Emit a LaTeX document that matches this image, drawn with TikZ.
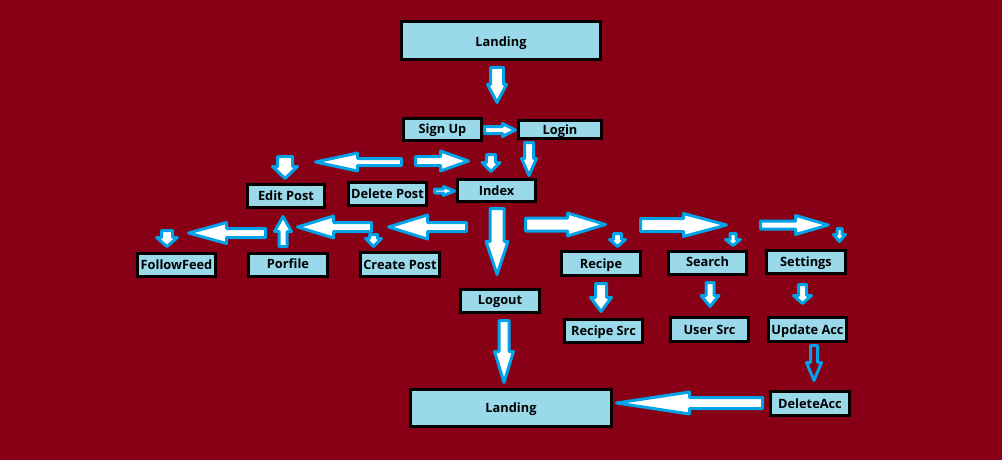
\documentclass[tikz,border=0pt]{standalone}
\usepackage{fontspec}
\setmainfont{Open Sans}
\usetikzlibrary{calc}
\definecolor{bgred}{RGB}{136,0,21}
\definecolor{boxblue}{RGB}{153,217,234}
\definecolor{arrblue}{RGB}{0,162,232}
\tikzset{
  box/.style={draw=black, line width=3pt, fill=boxblue, inner sep=0pt, text=black,
    font=\bfseries\fontsize{12.8}{14}\selectfont, text height=0.714em+2.4pt, text depth=0pt},
  barrow/.style={draw=arrblue, fill=white, line width=3pt, line join=round},
  hollow/.style={fill=none}
}
% #1 options, #2 tail, #3 tip, #4 head length, #5 shaft half width, #6 head half width
\newcommand{\blockarrow}[6][]{%
  \draw[barrow,#1] ($(#2)!#5pt!90:(#3)$) -- ($(#3)!#4pt!(#2)!#5pt!90:(#3)$)
    -- ($(#3)!#4pt!(#2)!#6pt!90:(#3)$) -- (#3)
    -- ($(#3)!#4pt!(#2)!#6pt!-90:(#3)$) -- ($(#3)!#4pt!(#2)!#5pt!-90:(#3)$)
    -- ($(#2)!#5pt!-90:(#3)$) -- cycle;}
\begin{document}
\begin{tikzpicture}[x=1pt,y=-1pt]
\fill[bgred] (0,0) rectangle (1002,460);
\useasboundingbox (0,0) rectangle (1002,460);

% boxes
\node[box, minimum width=199, minimum height=38] (landingtop) at (501,40.5) {\raisebox{-1.5pt}{Landing}};
\node[box, minimum width=78, minimum height=22] (signup) at (442.5,129.5) {\raisebox{1.2pt}{Sign Up}};
\node[box, minimum width=83, minimum height=18] (login) at (560,129.5) {Login};
\node[box, minimum width=78, minimum height=22] (index) at (496.5,190.5) {Index};
\node[box, minimum width=77, minimum height=23] (editpost) at (286,196) {Edit Post};
\node[box, minimum width=78, minimum height=23] (deletepost) at (387.5,194) {Delete Post};
\node[box, minimum width=78, minimum height=23] (followfeed) at (176.5,265) {FollowFeed};
\node[box, minimum width=79, minimum height=23] (porfile) at (288,265) {\raisebox{1pt}{Porfile}};
\node[box, minimum width=79, minimum height=24] (createpost) at (400,264.5) {Create Post};
\node[box, minimum width=79, minimum height=24] (recipe) at (601,263.5) {Recipe};
\node[box, minimum width=78, minimum height=23] (search) at (707.5,263) {\raisebox{1pt}{Search}};
\node[box, minimum width=79, minimum height=23] (settings) at (806,262) {Settings};
\node[box, minimum width=79, minimum height=23] (logout) at (500,301) {\raisebox{1pt}{Logout}};
\node[box, minimum width=78, minimum height=23] (recipesrc) at (603.5,331) {Recipe Src};
\node[box, minimum width=78, minimum height=24] (usersrc) at (709.5,329.5) {User Src};
\node[box, minimum width=78, minimum height=24] (updateacc) at (807.5,329.5) {Update Acc};
\node[box, minimum width=79, minimum height=24] (deleteacc) at (810,403.5) {DeleteAcc};
\node[box, minimum width=201, minimum height=37] (landingbot) at (511,408) {Landing};

% arrow end points
\coordinate (a1t) at (497,67.5);   \coordinate (a1h) at (497,102.5);
\coordinate (a2t) at (484.5,130);  \coordinate (a2h) at (515.5,130);
\coordinate (a3t) at (529,142.5);  \coordinate (a3h) at (529,175.5);
\coordinate (a4t) at (491,154.5);  \coordinate (a4h) at (491,171.5);
\coordinate (a5t) at (415.5,161);  \coordinate (a5h) at (468.5,161);
\coordinate (a6t) at (401.5,162);  \coordinate (a6h) at (315.5,162);
\coordinate (a7t) at (285,156.5);  \coordinate (a7h) at (285,178.5);
\coordinate (a8t) at (434.5,191);  \coordinate (a8h) at (454.5,191);
\coordinate (a9t) at (497,208.5);  \coordinate (a9h) at (497,274.5);
\coordinate (a10t) at (466.5,227); \coordinate (a10h) at (388.5,227);
\coordinate (a11t) at (373.5,234.5); \coordinate (a11h) at (373.5,246.5);
\coordinate (a12t) at (371.5,227); \coordinate (a12h) at (297.5,227);
\coordinate (a13t) at (283,246.5); \coordinate (a13h) at (283,216.5);
\coordinate (a14t) at (265.5,233); \coordinate (a14h) at (188.5,233);
\coordinate (a15t) at (167,230.5); \coordinate (a15h) at (167,246.5);
\coordinate (a16t) at (525.5,224.5); \coordinate (a16h) at (605.5,224.5);
\coordinate (a17t) at (617.5,233.5); \coordinate (a17h) at (617.5,246.5);
\coordinate (a18t) at (640.5,225); \coordinate (a18h) at (726.5,225);
\coordinate (a19t) at (733,233.5); \coordinate (a19h) at (733,245.5);
\coordinate (a20t) at (760.5,225); \coordinate (a20h) at (828.5,225);
\coordinate (a21t) at (839.5,228.5); \coordinate (a21h) at (839.5,241.5);
\coordinate (a22t) at (601,283.5); \coordinate (a22h) at (601,311.5);
\coordinate (a23t) at (710,282.5); \coordinate (a23h) at (710,306.5);
\coordinate (a24t) at (802.5,284.5); \coordinate (a24h) at (802.5,303.5);
\coordinate (a25t) at (504,320.5); \coordinate (a25h) at (504,382.5);
\coordinate (a26t) at (814,345.5); \coordinate (a26h) at (814,380.5);
\coordinate (a27t) at (762.5,403); \coordinate (a27h) at (616.5,403);

% arrows
\blockarrow{a1t}{a1h}{18}{6.5}{9.5}
\blockarrow{a2t}{a2h}{13}{3.5}{6.5}
\blockarrow{a3t}{a3h}{17}{4.5}{7.5}
\blockarrow{a4t}{a4h}{9}{4.5}{9}
\blockarrow{a5t}{a5h}{28}{4.5}{10}
\blockarrow{a6t}{a6h}{42}{3.5}{9}
\blockarrow{a7t}{a7h}{12}{7.5}{12.5}
\blockarrow{a8t}{a8h}{11}{2}{4.5}
\blockarrow{a9t}{a9h}{33}{7}{11}
\blockarrow{a10t}{a10h}{39}{4.5}{12}
\blockarrow{a12t}{a12h}{36}{4.5}{11}
\blockarrow{a11t}{a11h}{8}{4}{8}
\blockarrow{a13t}{a13h}{15}{4}{8.5}
\blockarrow{a14t}{a14h}{38}{4.5}{10.5}
\blockarrow{a15t}{a15h}{9}{5.5}{10.5}
\blockarrow{a16t}{a16h}{38}{6.5}{11.5}
\blockarrow{a17t}{a17h}{7}{4}{8}
\blockarrow{a18t}{a18h}{43}{6.5}{11.5}
\blockarrow{a19t}{a19h}{6}{3}{7.5}
\blockarrow{a20t}{a20h}{33}{4}{9.5}
\blockarrow{a21t}{a21h}{7}{2.5}{6}
\blockarrow{a22t}{a22h}{14}{5.5}{10.5}
\blockarrow{a23t}{a23h}{11}{4}{9}
\blockarrow{a24t}{a24h}{8}{4}{9}
\blockarrow{a25t}{a25h}{31}{5}{9.5}
\blockarrow[hollow]{a26t}{a26h}{18}{3.5}{7.5}
\blockarrow{a27t}{a27h}{73}{5.5}{11}
\end{tikzpicture}
\end{document}
